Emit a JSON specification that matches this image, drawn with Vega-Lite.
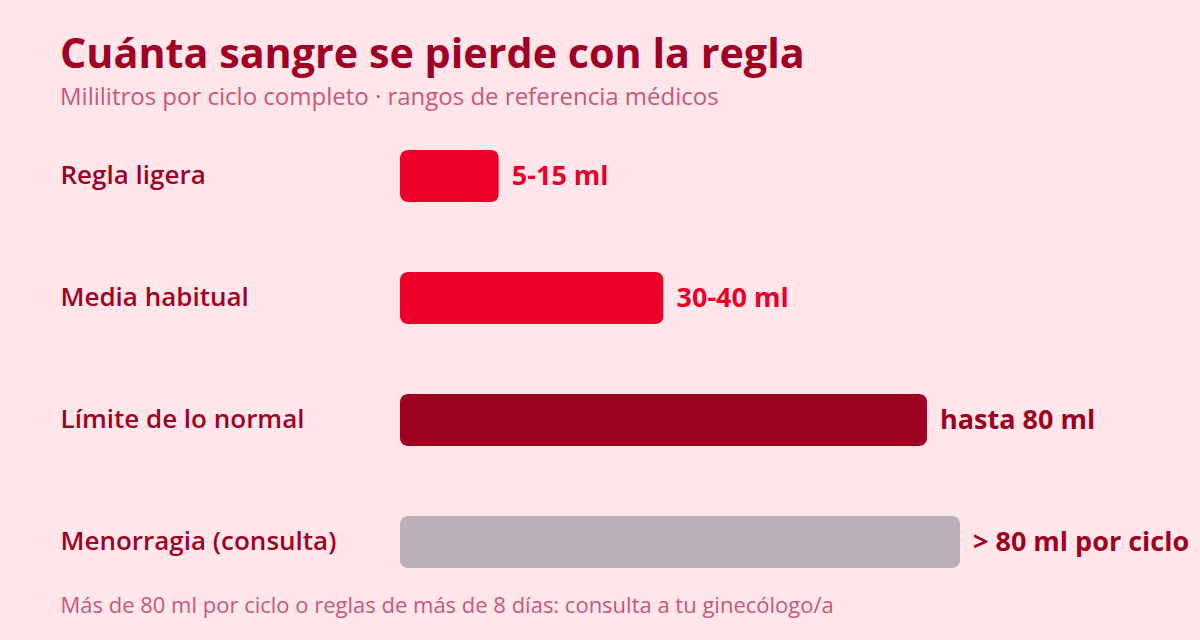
{
  "$schema": "https://vega.github.io/schema/vega-lite/v6.json",
  "autosize": {"type": "none"},
  "width": 560,
  "height": 488,
  "padding": {"left": 400, "top": 115, "right": 240, "bottom": 37},
  "background": "#ffe6ea",
  "config": {
    "view": {"stroke": null},
    "font": "Open Sans"
  },
  "title": {
    "text": "Cuánta sangre se pierde con la regla",
    "subtitle": "Mililitros por ciclo completo · rangos de referencia médicos",
    "anchor": "start",
    "frame": "bounds",
    "font": "Open Sans",
    "fontSize": 41.3,
    "fontWeight": "bold",
    "color": "#a00025",
    "subtitleFont": "Open Sans",
    "subtitleFontSize": 24,
    "subtitleColor": "#c9577b",
    "subtitlePadding": 10,
    "offset": 5
  },
  "data": {
    "values": [
      {"categoria": "Regla ligera", "ml": 15, "etiqueta": "5-15 ml"},
      {"categoria": "Media habitual", "ml": 40, "etiqueta": "30-40 ml"},
      {"categoria": "Límite de lo normal", "ml": 80, "etiqueta": "hasta 80 ml"},
      {"categoria": "Menorragia (consulta)", "ml": 85, "etiqueta": "> 80 ml por ciclo"}
    ]
  },
  "encoding": {
    "y": {
      "field": "categoria",
      "type": "nominal",
      "sort": null,
      "scale": {"paddingInner": 0.574, "paddingOuter": 0.287},
      "axis": {
        "title": null,
        "domain": false,
        "ticks": false,
        "labelAlign": "left",
        "labelPadding": 340,
        "labelFont": "Open Sans",
        "labelFontSize": 26,
        "labelFontWeight": 600,
        "labelColor": "#a00025",
        "labelLimit": 335
      }
    },
    "x": {
      "field": "ml",
      "type": "quantitative",
      "scale": {"domain": [0, 85], "nice": false},
      "axis": {
        "title": "Más de 80 ml por ciclo o reglas de más de 8 días: consulta a tu ginecólogo/a",
        "titleFont": "Open Sans",
        "titleFontSize": 22,
        "titleFontWeight": "normal",
        "titleColor": "#c9577b",
        "titleAlign": "left",
        "titleAnchor": "start",
        "titleX": -340,
        "titleY": 9,
        "titleBaseline": "alphabetic",
        "labels": false,
        "ticks": false,
        "domain": false,
        "grid": false
      }
    }
  },
  "layer": [
    {
      "mark": {"type": "bar", "cornerRadius": 8},
      "encoding": {
        "color": {
          "field": "categoria",
          "type": "nominal",
          "legend": null,
          "scale": {
            "domain": ["Regla ligera", "Media habitual", "Límite de lo normal", "Menorragia (consulta)"],
            "range": ["#ec0029", "#ec0029", "#9e0020", "#b9b0b8"]
          }
        }
      }
    },
    {
      "mark": {
        "type": "text",
        "align": "left",
        "baseline": "middle",
        "dx": 13,
        "dy": 1,
        "font": "Open Sans",
        "fontSize": 27,
        "fontWeight": "bold"
      },
      "encoding": {
        "text": {"field": "etiqueta"},
        "color": {
          "field": "categoria",
          "type": "nominal",
          "legend": null,
          "scale": {
            "domain": ["Regla ligera", "Media habitual", "Límite de lo normal", "Menorragia (consulta)"],
            "range": ["#e8002a", "#e8002a", "#9e0020", "#9e0020"]
          }
        }
      }
    }
  ],
  "resolve": {"scale": {"color": "independent"}}
}
